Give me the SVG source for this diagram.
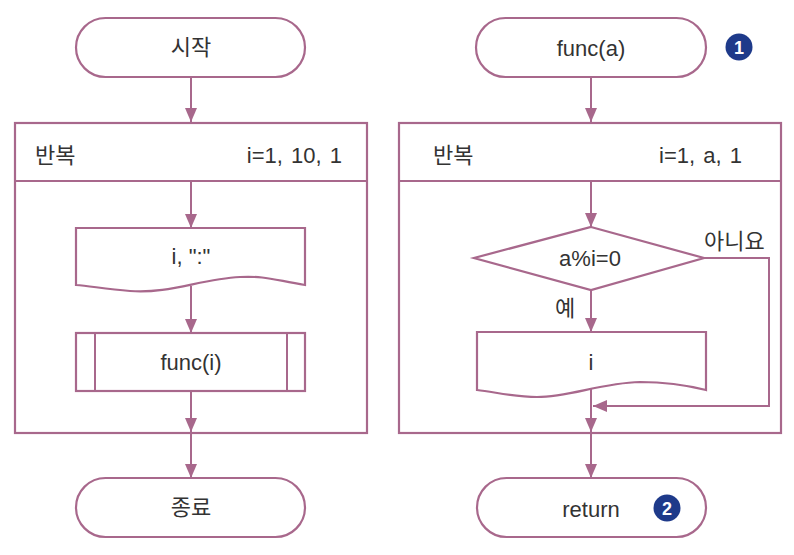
<svg xmlns="http://www.w3.org/2000/svg" width="794" height="555" viewBox="0 0 794 555">
<defs>
<style>
.s{fill:#fff;stroke:#a8688c;stroke-width:2.2}
.c{fill:none;stroke:#a8688c;stroke-width:2}
.t{font-family:"Liberation Sans","Noto Sans CJK KR",sans-serif;font-size:22px;fill:#333}
.m{text-anchor:middle}
.e{text-anchor:end}
.b{fill:#1e3a8a}
.bt{font-family:"Liberation Sans",sans-serif;font-size:18px;font-weight:bold;fill:#fff;text-anchor:middle}
</style>
<marker id="ah" viewBox="0 0 14 12" refX="14" refY="6" markerWidth="14" markerHeight="12" markerUnits="userSpaceOnUse" orient="auto">
<path d="M0,0 L14,6 L0,12 z" fill="#a8688c"/>
</marker>
</defs>
<rect width="794" height="555" fill="#fff"/>

<g id="loop1">
<rect class="s" x="15" y="123" width="352" height="310"/>
<line class="c" x1="15" y1="181" x2="367" y2="181" stroke-width="2.2"/>
<text class="t" x="35" y="163">반복</text>
<text class="t e" x="342" y="163" word-spacing="2">i=1, 10, 1</text>
</g>
<g id="loop2">
<rect class="s" x="399" y="123" width="382" height="310"/>
<line class="c" x1="399" y1="181" x2="781" y2="181" stroke-width="2.2"/>
<text class="t" x="433" y="163">반복</text>
<text class="t e" x="742" y="163" word-spacing="2">i=1, a, 1</text>
</g>

<g id="start">
<rect class="s" x="76" y="18" width="229" height="59" rx="29.5"/>
<text class="t m" x="191" y="55">시작</text>
</g>
<g id="print1">
<path class="s" d="M76,228 H305 V285 C270,279 265,276 240,277 C200,279 170,294 130,291 C105,289 90,286 76,285 Z"/>
<text class="t m" x="191" y="264">i, ":"</text>
</g>
<g id="call">
<rect class="s" x="76" y="333" width="229" height="58"/>
<line class="c" x1="95" y1="333" x2="95" y2="391" stroke-width="2.2"/>
<line class="c" x1="287" y1="333" x2="287" y2="391" stroke-width="2.2"/>
<text class="t m" x="191" y="370">func(i)</text>
</g>
<g id="end">
<rect class="s" x="76" y="478" width="229" height="59" rx="29.5"/>
<text class="t m" x="191" y="515">종료</text>
</g>

<g id="func">
<rect class="s" x="476" y="18" width="230" height="59" rx="29.5"/>
<text class="t m" x="591" y="56">func(a)</text>
</g>
<g id="badge1">
<circle class="b" cx="739" cy="47" r="13.5"/>
<text class="bt" x="739" y="53.5">1</text>
</g>
<g id="cond">
<path class="s" d="M591,227 L704,258 L591,290 L474,258 Z"/>
<text class="t m" x="590" y="266">a%i=0</text>
</g>
<g id="print2">
<path class="s" d="M477,332 H706 V390 C690,386 670,382 640,382 C600,383 570,397 537,397 C515,397 495,392 477,390 Z"/>
<text class="t m" x="591" y="370">i</text>
</g>
<g id="ret">
<rect class="s" x="477" y="478" width="229" height="59" rx="29.5"/>
<text class="t m" x="591" y="517">return</text>
</g>
<g id="badge2">
<circle class="b" cx="667" cy="508" r="13.5"/>
<text class="bt" x="667" y="514.5">2</text>
</g>

<g id="connectors">
<line class="c" x1="191" y1="77" x2="191" y2="122" marker-end="url(#ah)"/>
<line class="c" x1="191" y1="181" x2="191" y2="228" marker-end="url(#ah)"/>
<line class="c" x1="191" y1="286" x2="191" y2="333" marker-end="url(#ah)"/>
<line class="c" x1="191" y1="391" x2="191" y2="432" marker-end="url(#ah)"/>
<line class="c" x1="191" y1="433" x2="191" y2="478" marker-end="url(#ah)"/>
<line class="c" x1="591" y1="77" x2="591" y2="122" marker-end="url(#ah)"/>
<line class="c" x1="591" y1="181" x2="591" y2="227" marker-end="url(#ah)"/>
<line class="c" x1="591" y1="290" x2="591" y2="332" marker-end="url(#ah)"/>
<line class="c" x1="591" y1="388" x2="591" y2="432" marker-end="url(#ah)"/>
<line class="c" x1="591" y1="433" x2="591" y2="478" marker-end="url(#ah)"/>
<polyline class="c" points="704,258 769,258 769,406 593,406" marker-end="url(#ah)"/>
<text class="t" x="704" y="249">아니요</text>
<text class="t" x="555" y="316">예</text>
</g>
</svg>
